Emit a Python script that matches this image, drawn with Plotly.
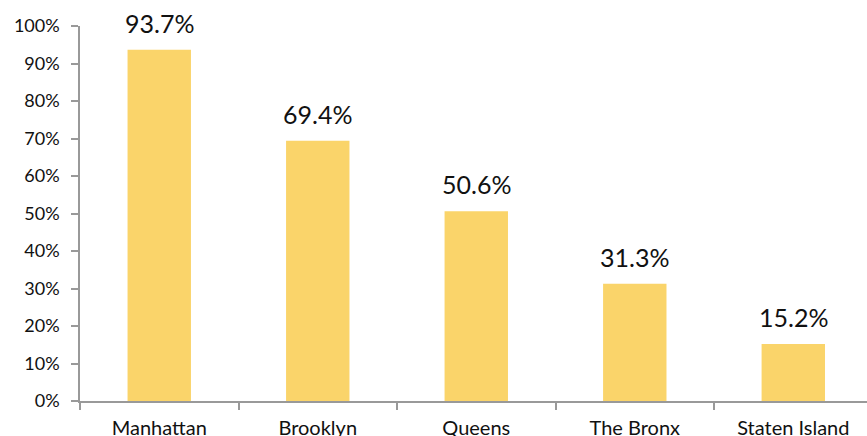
import plotly.graph_objects as go

categories = ["Manhattan", "Brooklyn", "Queens", "The Bronx", "Staten Island"]
values = [93.7, 69.4, 50.6, 31.3, 15.2]
y_tick_vals = [0, 10, 20, 30, 40, 50, 60, 70, 80, 90, 100]
y_tick_text = [f"{v}%" for v in y_tick_vals]

fig = go.Figure(go.Bar(
    x=categories, y=values, width=0.4,
    marker=dict(color="#FAD46A", line=dict(width=0)),
    hoverinfo="x+y",
))

for c, v in zip(categories, values):
    fig.add_annotation(
        x=c, y=v, text=f"{v:.1f}%", showarrow=False,
        yanchor="bottom", yshift=10,
        font=dict(size=25, color="#111111", family="Lato"),
    )

fig.update_layout(
    width=867, height=436,
    margin=dict(l=80, r=0, t=26, b=35),
    paper_bgcolor="white", plot_bgcolor="white",
    font=dict(family="Lato", color="#111111"),
    showlegend=False,
    bargap=0.6,
)
fig.update_xaxes(
    range=[-0.5, 4.465], automargin=False,
    showline=True, linecolor="#999999", linewidth=1.5,
    ticks="outside", tickson="boundaries", ticklen=7, tickcolor="#999999", tickwidth=1.5,
    tickfont=dict(size=20, color="#111111"),
    ticklabelstandoff=8,
    showgrid=False, zeroline=False,
)
fig.update_yaxes(
    range=[0, 100], tickvals=y_tick_vals, ticktext=y_tick_text, automargin=False,
    showline=True, linecolor="#999999", linewidth=1.5,
    ticks="outside", ticklen=7, tickcolor="#999999", tickwidth=1.5,
    tickfont=dict(size=18, color="#111111"),
    ticklabelstandoff=8,
    showgrid=False, zeroline=False,
)
fig.write_html("out.html", config={"displayModeBar": False},
               post_script="document.body.style.margin='0';")
